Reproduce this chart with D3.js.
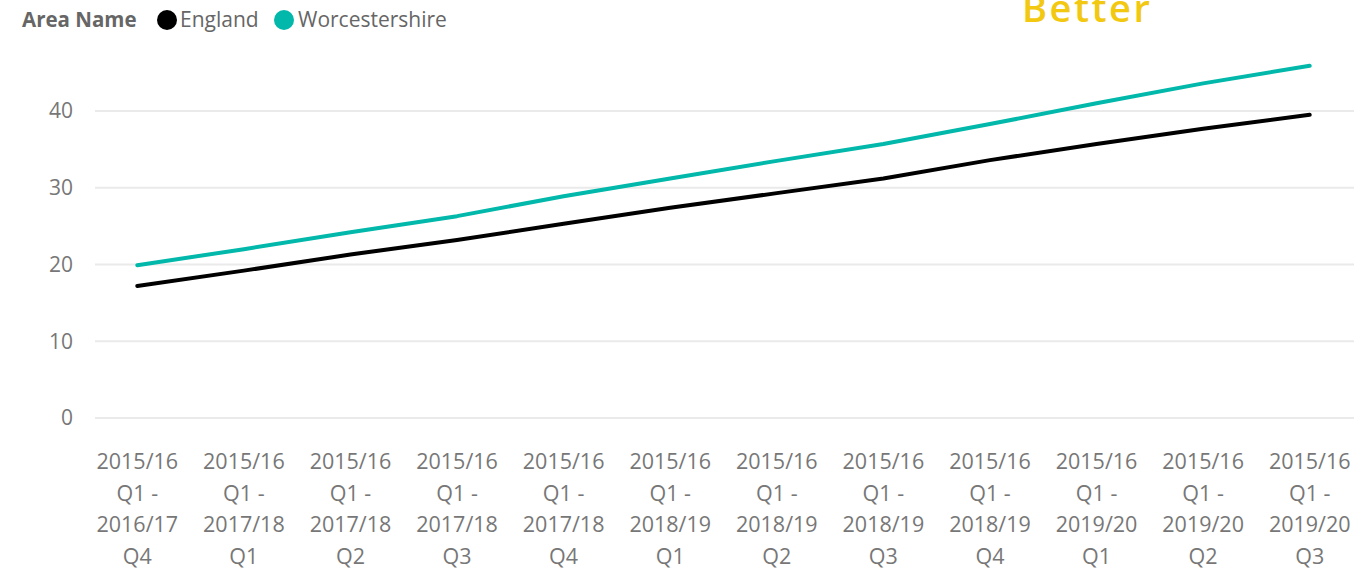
<!DOCTYPE html>
<meta charset="utf-8">
<style>
body { margin: 0; background: #fff; }
text { font-family: "Open Sans", "Noto Sans", sans-serif; }
.grid line { stroke: #eaeaea; stroke-width: 2; }
.line { fill: none; stroke-width: 4; stroke-linejoin: round; stroke-linecap: round; }
</style>
<body></body>
<script src="https://d3js.org/d3.v7.min.js"></script>
<script>

// periods (each label is split into lines)
var periods = [
  ["2015/16", "Q1 -", "2016/17", "Q4"],
  ["2015/16", "Q1 -", "2017/18", "Q1"],
  ["2015/16", "Q1 -", "2017/18", "Q2"],
  ["2015/16", "Q1 -", "2017/18", "Q3"],
  ["2015/16", "Q1 -", "2017/18", "Q4"],
  ["2015/16", "Q1 -", "2018/19", "Q1"],
  ["2015/16", "Q1 -", "2018/19", "Q2"],
  ["2015/16", "Q1 -", "2018/19", "Q3"],
  ["2015/16", "Q1 -", "2018/19", "Q4"],
  ["2015/16", "Q1 -", "2019/20", "Q1"],
  ["2015/16", "Q1 -", "2019/20", "Q2"],
  ["2015/16", "Q1 -", "2019/20", "Q3"]
];
var england = [17.2, 19.2, 21.3, 23.2, 25.3, 27.4, 29.3, 31.2, 33.6, 35.7, 37.7, 39.5];
var worcestershire = [19.9, 22.0, 24.2, 26.3, 28.9, 31.2, 33.5, 35.7, 38.3, 41.0, 43.6, 45.9];
var yTicks = [0, 10, 20, 30, 40];

var W = 1354, H = 573;
var svg = d3.select("body").append("svg").attr("width", W).attr("height", H);

var keys = periods.map(function(p) { return p.join(" "); });

var x = d3.scaleBand().domain(keys).range([84, 1363]);
var y = d3.scaleLinear().domain([0, 40]).range([418, 111]);

// gridlines
svg.append("g").attr("class", "grid")
  .selectAll("line").data(yTicks).enter().append("line")
    .attr("x1", 95).attr("x2", W)
    .attr("y1", function(d) { return y(d); })
    .attr("y2", function(d) { return y(d); });

// y labels
svg.append("g").selectAll("text").data(yTicks).enter().append("text")
    .attr("x", 73).attr("y", function(d) { return y(d); })
    .attr("dy", "0.35em")
    .attr("text-anchor", "end")
    .style("font-size", "21px").style("fill", "#777")
    .text(function(d) { return d; });

// x labels
var xl = svg.append("g").selectAll("text").data(periods).enter().append("text")
    .attr("text-anchor", "middle")
    .style("font-size", "21.5px").style("fill", "#777")
    .attr("transform", function(d, i) { return "translate(" + (x(keys[i]) + x.bandwidth() / 2) + ",469)"; });
xl.selectAll("tspan").data(function(d) { return d; }).enter().append("tspan")
    .attr("x", 0).attr("y", function(d, j) { return j * 31.7; })
    .text(function(d) { return d; });

var line = d3.line()
    .x(function(d, i) { return x(keys[i]) + x.bandwidth() / 2; })
    .y(function(d) { return y(d); });

svg.append("path").datum(england).attr("class", "line")
    .attr("stroke", "#000").attr("d", line);
svg.append("path").datum(worcestershire).attr("class", "line")
    .attr("stroke", "#01b8aa").attr("d", line);

// legend
var lg = svg.append("g").attr("transform", "translate(22,20)");
lg.append("text").attr("x", 0).attr("dy", "0.35em")
    .style("font-size", "20.5px").style("font-weight", "bold").style("fill", "#666")
    .text("Area Name");
lg.append("circle").attr("cx", 145).attr("r", 10).attr("fill", "#000");
lg.append("text").attr("x", 158).attr("dy", "0.35em")
    .style("font-size", "21px").style("fill", "#666").text("England");
lg.append("circle").attr("cx", 262).attr("r", 10).attr("fill", "#01b8aa");
lg.append("text").attr("x", 276).attr("dy", "0.35em")
    .style("font-size", "21px").style("fill", "#666").text("Worcestershire");

// "Better" annotation, partly cut off at the top as in the original
svg.append("text")
    .attr("x", 1022).attr("y", 22)
    .style("font-size", "38px").style("font-weight", "600").style("fill", "#f2c811")
    .style("letter-spacing", "2.5px")
    .text("Better");

</script>
